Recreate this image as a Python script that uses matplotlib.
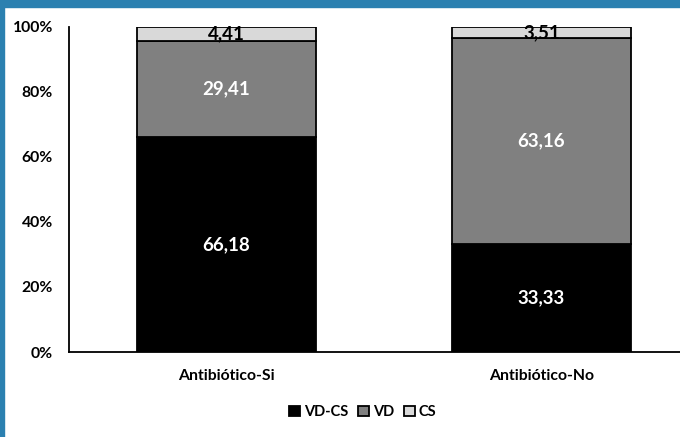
import matplotlib

matplotlib.use("Agg")
import matplotlib.pyplot as plt
from matplotlib.patches import Rectangle
import numpy as np

plt.rcParams["font.family"] = ["Lato", "DejaVu Sans"]

categories = ["Antibiótico-Si", "Antibiótico-No"]
series = ["VD-CS", "VD", "CS"]
vd_cs = [66.18, 33.33]
vd = [29.41, 63.16]
cs = [4.41, 3.51]

colors = {"VD-CS": "#000000", "VD": "#808080", "CS": "#d9d9d9"}
text_colors = {"VD-CS": "white", "VD": "white", "CS": "black"}

W, H = 680, 437
fig = plt.figure(figsize=(W / 100, H / 100), dpi=100)
ax = fig.add_axes([69 / W, (H - 352) / H, (W - 69) / W, 325 / H])

x = np.arange(len(categories))
width = 0.568
bottom = np.zeros(len(categories))
for name, vals in zip(series, [vd_cs, vd, cs]):
    vals = np.array(vals)
    frac = vals / 100.0
    ax.bar(x, frac, width, bottom=bottom, color=colors[name], edgecolor="black",
           linewidth=1.3, label=name, zorder=2)
    for xi, b, f, v in zip(x, bottom, frac, vals):
        ax.text(xi, b + f / 2, f"{v:.2f}".replace(".", ","), ha="center", va="center",
                fontsize=13.5, fontweight="bold", color=text_colors[name], zorder=3)
    bottom += frac

ax.set_xlim(-0.5, -0.5 + (W - 69) / 315)
ax.set_ylim(0, 1)
ax.set_yticks(np.arange(0, 1.01, 0.2))
ax.set_yticklabels([f"{int(round(t * 100))}%" for t in np.arange(0, 1.01, 0.2)])
ax.set_xticks(x)
ax.set_xticklabels(categories)
ax.tick_params(axis="both", length=0)
ax.tick_params(axis="y", pad=11.5, labelsize=11.3)
ax.tick_params(axis="x", pad=12, labelsize=11.3)
for lab in ax.get_xticklabels() + ax.get_yticklabels():
    lab.set_fontweight("bold")
ax.spines["top"].set_visible(False)
ax.spines["right"].set_visible(False)
ax.spines["left"].set_linewidth(1.3)
ax.spines["bottom"].set_linewidth(1.3)

ax.legend(loc="center", bbox_to_anchor=(363 / W, (H - 412) / H), bbox_transform=fig.transFigure,
          ncol=3, frameon=False, handlelength=0.75, handleheight=0.75, handletextpad=0.25,
          columnspacing=0.7, prop={"weight": "bold", "size": 10.5})

# blue frame along top and left edges
fig.patches.append(Rectangle((0, 1 - 7 / H), 1, 7 / H, transform=fig.transFigure,
                             color="#2b80b0", zorder=10))
fig.patches.append(Rectangle((0, 0), 4 / W, 1, transform=fig.transFigure,
                             color="#2b80b0", zorder=10))

fig.savefig("out.png", dpi=100)
